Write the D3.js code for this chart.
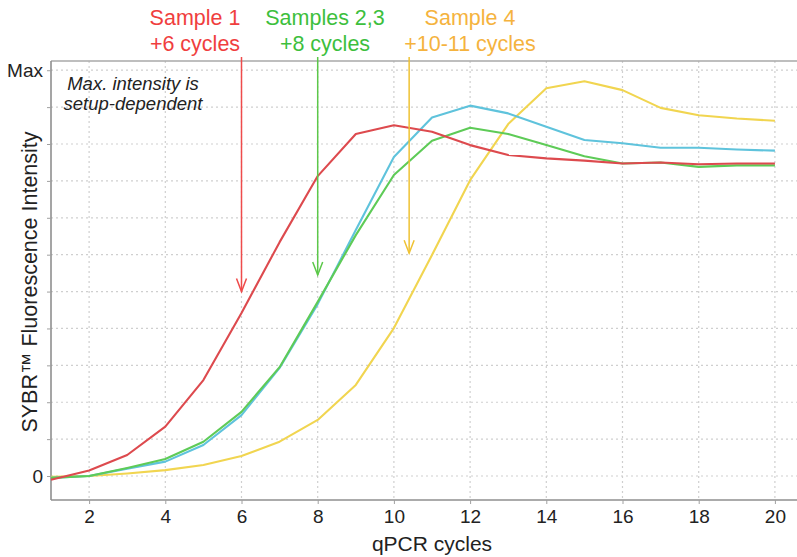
<!DOCTYPE html>
<html>
<head>
<meta charset="utf-8">
<script src="https://cdn.jsdelivr.net/npm/d3@7"></script>
<style>
  html, body { margin: 0; padding: 0; background: #fff; }
  svg { display: block; font-family: "Liberation Sans", Arial, Helvetica, sans-serif; }
</style>
</head>
<body>
<svg id="chart" width="797" height="557"></svg>
<script>
// qPCR amplification curves (SYBR fluorescence, arbitrary units, Max = 11)
const cycles = d3.range(1, 21);
const sample1  = [-0.10, 0.15, 0.57, 1.34, 2.60, 4.42, 6.34, 8.13, 9.27, 9.51, 9.33, 8.97, 8.70, 8.61, 8.55, 8.47, 8.50, 8.45, 8.47, 8.47];
const sample2  = [-0.05, 0.00, 0.20, 0.39, 0.84, 1.65, 2.93, 4.66, 6.67, 8.65, 9.72, 10.04, 9.83, 9.47, 9.11, 9.02, 8.90, 8.90, 8.85, 8.82];
const sample3  = [-0.05, 0.00, 0.22, 0.46, 0.93, 1.74, 2.95, 4.72, 6.53, 8.16, 9.09, 9.44, 9.27, 8.97, 8.67, 8.47, 8.50, 8.38, 8.42, 8.42];
const sample4  = [-0.02, 0.00, 0.07, 0.16, 0.30, 0.54, 0.93, 1.52, 2.47, 4.01, 5.99, 8.02, 9.54, 10.51, 10.70, 10.46, 9.98, 9.78, 9.69, 9.63];

const xTicks = [2, 4, 6, 8, 10, 12, 14, 16, 18, 20];
const yTicks = d3.range(0, 12);
const yTickLabels = { 0: "0", 11: "Max" };

// Arrow annotations: label lines, cycle position, tip value
const noteLines  = [["Sample 1", "+6 cycles"], ["Samples 2,3", "+8 cycles"], ["Sample 4", "+10-11 cycles"]];
const noteCycle  = [6, 8, 10.4];
const noteTip    = [5.0, 5.45, 6.04];
const noteLabelX = [195, 325, 470];

const seriesColors = ["#dd4a4e", "#5fc3dc", "#5ecb57", "#f1d550"];
const textColors   = ["#f03e3e", "#3dbf3d", "#f5b33e"];
const arrowColors  = ["#ef4b4b", "#5cc84a", "#efc233"];

const svg = d3.select("#chart");
const plotL = 51, plotR = 797, plotT = 61, plotB = 500;

const x = d3.scaleLinear().domain([1, 20.58]).range([plotL, plotR]);
const y = d3.scaleLinear().domain([-0.65, 11.25]).range([plotB, plotT]);

// grid
const grid = svg.append("g");
grid.selectAll("line.h").data(yTicks).join("line")
  .attr("x1", plotL).attr("x2", plotR)
  .attr("y1", d => y(d)).attr("y2", d => y(d))
  .attr("stroke", "#cfcfcf").attr("stroke-width", 1.2).attr("stroke-dasharray", "2,3");
grid.selectAll("line.v").data(xTicks).join("line")
  .attr("x1", d => x(d)).attr("x2", d => x(d))
  .attr("y1", plotT).attr("y2", plotB)
  .attr("stroke", "#cfcfcf").attr("stroke-width", 1.2).attr("stroke-dasharray", "2,3");

// frame top
svg.append("line").attr("x1", plotL).attr("x2", plotR).attr("y1", plotT).attr("y2", plotT)
  .attr("stroke", "#a8a8a8").attr("stroke-width", 1.5);

// axes
const xAxis = d3.axisBottom(x).tickValues(xTicks).tickSize(4).tickPadding(6).tickFormat(d3.format("d"));
const yAxis = d3.axisLeft(y).tickValues(yTicks).tickSize(4).tickPadding(4).tickFormat(d => yTickLabels[d] || "");

const gx = svg.append("g").attr("transform", `translate(0,${plotB})`).call(xAxis);
const gy = svg.append("g").attr("transform", `translate(${plotL},0)`).call(yAxis);
[gx, gy].forEach(g => {
  g.select(".domain").attr("stroke", "#8f8f8f").attr("stroke-width", 1.6);
  g.selectAll(".tick line").attr("stroke", "#a0a0a0");
  g.selectAll(".tick text").attr("fill", "#222").attr("font-size", 19)
    .attr("font-family", "Liberation Sans, Arial, sans-serif");
});
gy.select(".domain").attr("d", `M0,${plotT}V${plotB}`);
gx.select(".domain").attr("d", `M${plotL},0H${plotR}`);

// axis titles
svg.append("text").attr("x", 432).attr("y", 551).attr("text-anchor", "middle")
  .attr("font-size", 21).attr("fill", "#222").text("qPCR cycles");
svg.append("text").attr("transform", "translate(37,282) rotate(-90)").attr("text-anchor", "middle")
  .attr("font-size", 21.5).attr("fill", "#222").text("SYBR\u2122 Fluorescence Intensity");

// note in plot
const note = svg.append("text").attr("font-size", 18.5).attr("font-style", "italic")
  .attr("fill", "#222").attr("text-anchor", "middle");
note.append("tspan").attr("x", 133).attr("y", 90).text("Max. intensity is");
note.append("tspan").attr("x", 133).attr("y", 110).text("setup-dependent");

// curves
const line = d3.line().x((d, i) => x(cycles[i])).y(d => y(d));
const series = [sample1, sample2, sample3, sample4];
const drawOrder = [3, 1, 2, 0];
svg.append("g").selectAll("path").data(drawOrder).join("path")
  .attr("d", k => line(series[k]))
  .attr("fill", "none")
  .attr("stroke", k => seriesColors[k])
  .attr("stroke-width", 2.1)
  .attr("stroke-linejoin", "round");

// arrows with labels
const ann = svg.append("g");
noteCycle.forEach((c, i) => {
  const ax = x(c), tip = y(noteTip[i]);
  ann.append("line").attr("x1", ax).attr("x2", ax).attr("y1", 57).attr("y2", tip)
    .attr("stroke", arrowColors[i]).attr("stroke-width", 1.5);
  ann.append("path").attr("d", `M${ax - 5},${tip - 13}L${ax},${tip}L${ax + 5},${tip - 13}`)
    .attr("fill", "none").attr("stroke", arrowColors[i]).attr("stroke-width", 1.5);
  const t = ann.append("text").attr("text-anchor", "middle").attr("font-size", 21.5)
    .attr("fill", textColors[i]);
  t.append("tspan").attr("x", noteLabelX[i]).attr("y", 25).text(noteLines[i][0]);
  t.append("tspan").attr("x", noteLabelX[i]).attr("y", 51).text(noteLines[i][1]);
});
</script>
</body>
</html>
